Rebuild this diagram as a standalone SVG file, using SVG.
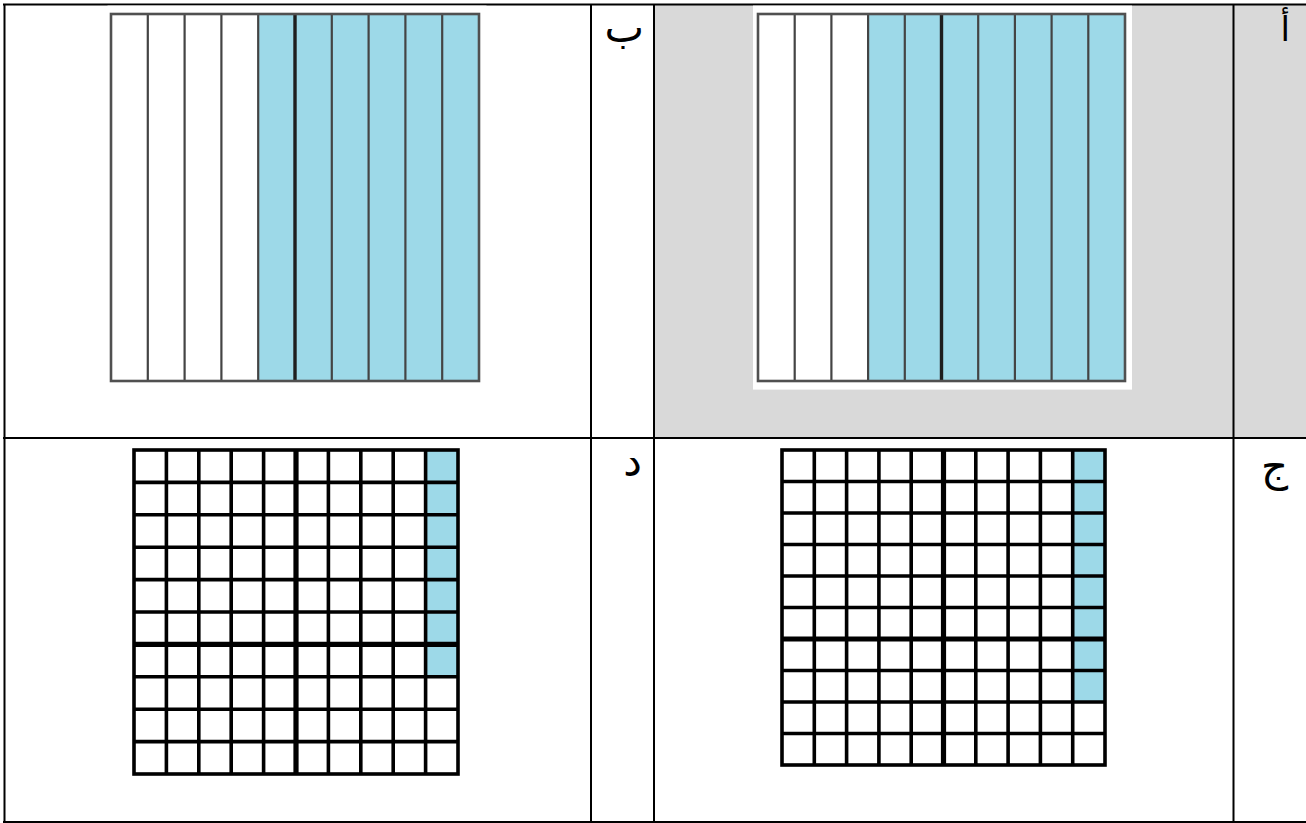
<svg xmlns="http://www.w3.org/2000/svg" width="1306" height="823" viewBox="0 0 1306 823">
  <style>
    .tbl { stroke: #000; stroke-width: 2; fill: none; }
    .blue { fill: #9dd9e8; }
    .barline { stroke: #444; stroke-width: 2.2; fill: none; }
    .barmid { stroke: #1e1e1e; stroke-width: 3.4; fill: none; }
    .barframe { stroke: #505050; stroke-width: 2.6; fill: none; }
    .gline { stroke: #000; stroke-width: 3.6; fill: none; }
    .gmid { stroke: #000; stroke-width: 5.2; fill: none; }
    .lbl { font-family: "Liberation Serif", "DejaVu Sans", serif; font-size: 42px; fill: #000; text-anchor: end; }
  </style>
  <rect width="1306" height="823" fill="#fff"/>

  <!-- table backgrounds -->
  <rect x="654" y="4" width="652" height="434" fill="#d9d9d9"/>

  <!-- table lines -->
  <g id="table">
    <line class="tbl" x1="3" y1="4.5" x2="1306" y2="4.5"/>
    <line class="tbl" x1="3" y1="822" x2="1306" y2="822"/>
    <line class="tbl" x1="4.5" y1="4" x2="4.5" y2="823"/>
    <line class="tbl" x1="3" y1="438" x2="1306" y2="438"/>
    <line class="tbl" x1="591" y1="4" x2="591" y2="823"/>
    <line class="tbl" x1="654" y1="4" x2="654" y2="823"/>
    <line class="tbl" x1="1233.5" y1="4" x2="1233.5" y2="823"/>
  </g>

  <!-- cell B (top-left) -->
  <g id="cell-b">
    <rect x="107.5" y="5.6" width="379" height="384" fill="#fff"/>
    <rect class="blue" x="258.2" y="14" width="220.8" height="367"/>
    <path class="barline" d="M147.8 14V381M184.6 14V381M221.4 14V381M258.2 14V381M331.8 14V381M368.6 14V381M405.4 14V381M442.2 14V381"/>
    <path class="barmid" d="M295 14V381"/>
    <rect class="barframe" x="111" y="14" width="368" height="367"/>
  </g>
  <text id="label-b" class="lbl" x="644" y="42">ب</text>

  <!-- cell A (top-right, grey) -->
  <g id="cell-a">
    <rect x="753" y="5.6" width="379" height="384" fill="#fff"/>
    <rect class="blue" x="868.1" y="14" width="256.9" height="367"/>
    <path class="barline" d="M794.7 14V381M831.4 14V381M868.1 14V381M904.8 14V381M978.2 14V381M1014.9 14V381M1051.6 14V381M1088.3 14V381"/>
    <path class="barmid" d="M941.5 14V381"/>
    <rect class="barframe" x="758" y="14" width="367" height="367"/>
  </g>
  <text id="label-a" class="lbl" x="1290" y="41" style="font-size:34px">أ</text>

  <!-- cell D (bottom-left) -->
  <g id="cell-d">
    <rect x="134" y="450" width="324" height="324" fill="#fff"/>
    <rect class="blue" x="425.6" y="450" width="32.4" height="226.8"/>
    <path class="gline" d="M166.4 450V774M198.8 450V774M231.2 450V774M263.6 450V774M328.4 450V774M360.8 450V774M393.2 450V774M425.6 450V774M134 482.4H458M134 514.8H458M134 547.2H458M134 579.6H458M134 612H458M134 676.8H458M134 709.2H458M134 741.6H458"/>
    <path class="gmid" d="M296 450V774M134 644.4H458"/>
    <rect class="gline" x="134" y="450" width="324" height="324"/>
  </g>
  <text id="label-d" class="lbl" x="642" y="476">د</text>

  <!-- cell J (bottom-right) -->
  <g id="cell-j">
    <rect x="782" y="450" width="323" height="315" fill="#fff"/>
    <rect class="blue" x="1072.7" y="450" width="32.3" height="252"/>
    <path class="gline" d="M814.3 450V765M846.6 450V765M878.9 450V765M911.2 450V765M975.8 450V765M1008.1 450V765M1040.4 450V765M1072.7 450V765M782 481.5H1105M782 513H1105M782 544.5H1105M782 576H1105M782 607.5H1105M782 670.5H1105M782 702H1105M782 733.5H1105"/>
    <path class="gmid" d="M943.5 450V765M782 639H1105"/>
    <rect class="gline" x="782" y="450" width="323" height="315"/>
  </g>
  <text id="label-j" class="lbl" x="1288" y="481">ج</text>
</svg>
